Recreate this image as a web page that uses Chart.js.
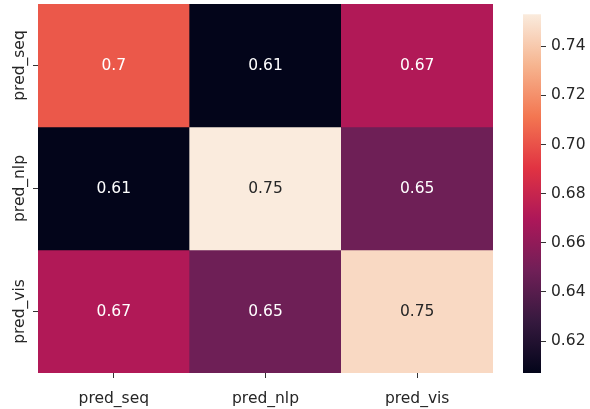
<!DOCTYPE html>
<html>
<head>
<meta charset="utf-8">
<script src="https://cdn.jsdelivr.net/npm/chart.js@4"></script>
<style>
  body { margin: 0; background: #fff; }
  #wrap { position: relative; width: 590px; height: 409px; }
  #heatBox { position: absolute; left: 0; top: 0; width: 500px; height: 409px; }
  #barBox { position: absolute; left: 500px; top: 0; width: 90px; height: 409px; }
</style>
</head>
<body>
<div id="wrap">
  <div id="heatBox"><canvas id="heatChart"></canvas></div>
  <div id="barBox"><canvas id="barChart"></canvas></div>
</div>
<script>
const rowNames = ['pred_seq', 'pred_nlp', 'pred_vis'];
const colNames = ['pred_seq', 'pred_nlp', 'pred_vis'];
const rowSeq = [0.702, 0.607, 0.671];
const rowNlp = [0.607, 0.753, 0.648];
const rowVis = [0.671, 0.648, 0.746];
const cbTicks = [0.62, 0.64, 0.66, 0.68, 0.70, 0.72, 0.74];
const vmin = 0.607;
const vmax = 0.753;

const values = [rowSeq, rowNlp, rowVis];

// rocket colormap, sampled
const rocket = [
  [0, '#03051a'], [1 / 7, '#35193e'], [2 / 7, '#701f57'], [3 / 7, '#ad1759'],
  [4 / 7, '#e13342'], [5 / 7, '#f37651'], [6 / 7, '#f6b48f'], [1, '#faebdd'],
];

const hexToRgb = (h) => [1, 3, 5].map((i) => parseInt(h.slice(i, i + 2), 16));

const colorFor = (v) => {
  const t = Math.min(1, Math.max(0, (v - vmin) / (vmax - vmin)));
  for (let k = 1; k < rocket.length; k++) {
    if (t <= rocket[k][0]) {
      const [t0, c0] = rocket[k - 1];
      const [t1, c1] = rocket[k];
      const f = (t - t0) / (t1 - t0);
      const a = hexToRgb(c0), b = hexToRgb(c1);
      return a.map((x, i) => Math.round(x + (b[i] - x) * f));
    }
  }
  return hexToRgb(rocket[rocket.length - 1][1]);
};

const rgbStr = (c) => `rgb(${c[0]},${c[1]},${c[2]})`;

const textColorFor = (v) => {
  const lin = colorFor(v).map((x) => {
    x /= 255;
    return x <= 0.03928 ? x / 12.92 : Math.pow((x + 0.055) / 1.055, 2.4);
  });
  const lum = 0.2126 * lin[0] + 0.7152 * lin[1] + 0.0722 * lin[2];
  return lum > 0.408 ? '#262626' : '#ffffff';
};

const fmt = (v) => String(Number(v.toPrecision(2)));

const FONT = { family: 'DejaVu Sans', size: 15.5 };
const TICK_COLOR = '#333333';
const LABEL_COLOR = '#262626';

const annotPlugin = {
  id: 'annot',
  afterDatasetsDraw(chart) {
    const { ctx, scales: { x, y } } = chart;
    ctx.save();
    ctx.font = `${FONT.size}px ${FONT.family}`;
    ctx.textAlign = 'center';
    ctx.textBaseline = 'middle';
    values.forEach((row, i) => {
      row.forEach((v, j) => {
        ctx.fillStyle = textColorFor(v);
        ctx.fillText(fmt(v), x.getPixelForValue(j), y.getPixelForValue(i + 0.5));
      });
    });
    ctx.restore();
  },
  afterDraw(chart) {
    const { ctx, scales: { y } } = chart;
    ctx.save();
    ctx.font = `${FONT.size}px ${FONT.family}`;
    ctx.fillStyle = LABEL_COLOR;
    ctx.textAlign = 'center';
    ctx.textBaseline = 'middle';
    rowNames.forEach((name, i) => {
      ctx.save();
      ctx.translate(20, y.getPixelForValue(i + 0.5));
      ctx.rotate(-Math.PI / 2);
      ctx.fillText(name, 0, 0);
      ctx.restore();
    });
    ctx.restore();
  },
};

new Chart(document.querySelector('#heatChart').getContext('2d'), {
  type: 'bar',
  data: {
    labels: colNames,
    datasets: values.map((row, i) => ({
      label: rowNames[i],
      data: row.map(() => [i, i + 1]),
      backgroundColor: row.map((v) => rgbStr(colorFor(v))),
      borderWidth: 0,
      grouped: false,
      barPercentage: 1,
      categoryPercentage: 1,
    })),
  },
  options: {
    responsive: true,
    maintainAspectRatio: false,
    animation: false,
    layout: { padding: { top: 4, right: 7, left: 0, bottom: 0 } },
    plugins: { legend: { display: false }, tooltip: { enabled: false } },
    scales: {
      x: {
        grid: { drawOnChartArea: false, offset: false, tickLength: 5, color: TICK_COLOR, tickWidth: 1 },
        border: { display: false },
        ticks: { font: FONT, color: LABEL_COLOR, padding: 12, maxRotation: 0 },
        afterFit: (s) => { s.height = 36; },
      },
      y: {
        min: 0,
        max: 3,
        reverse: true,
        grid: { drawOnChartArea: false, tickLength: 5, color: TICK_COLOR, tickWidth: 1 },
        border: { display: false },
        ticks: { display: false },
        afterBuildTicks: (s) => { s.ticks = rowNames.map((_, i) => ({ value: i + 0.5 })); },
        afterFit: (s) => { s.width = 38; },
      },
    },
  },
  plugins: [annotPlugin],
});

new Chart(document.querySelector('#barChart').getContext('2d'), {
  type: 'bar',
  data: {
    labels: [''],
    datasets: [{
      data: [[vmin, vmax]],
      borderWidth: 0,
      barPercentage: 1,
      categoryPercentage: 1,
      backgroundColor: (c) => {
        const { chart } = c;
        const y = chart.scales.y;
        if (!chart.chartArea || !y) return '#000';
        const g = chart.ctx.createLinearGradient(0, y.getPixelForValue(vmin), 0, y.getPixelForValue(vmax));
        rocket.forEach(([t, col]) => g.addColorStop(t, col));
        return g;
      },
    }],
  },
  options: {
    responsive: true,
    maintainAspectRatio: false,
    animation: false,
    layout: { padding: { top: 4, right: 0, left: 23, bottom: 36 } },
    plugins: { legend: { display: false }, tooltip: { enabled: false } },
    scales: {
      x: { display: false },
      y: {
        position: 'right',
        min: vmin,
        max: vmax,
        grid: { drawOnChartArea: false, tickLength: 5, color: TICK_COLOR, tickWidth: 1 },
        border: { display: false },
        ticks: {
          font: FONT,
          color: LABEL_COLOR,
          padding: 5,
          callback: (v) => v.toFixed(2),
        },
        afterBuildTicks: (s) => { s.ticks = cbTicks.map((v) => ({ value: v })); },
        afterFit: (s) => { s.width = 49; },
      },
    },
  },
});
</script>
</body>
</html>
